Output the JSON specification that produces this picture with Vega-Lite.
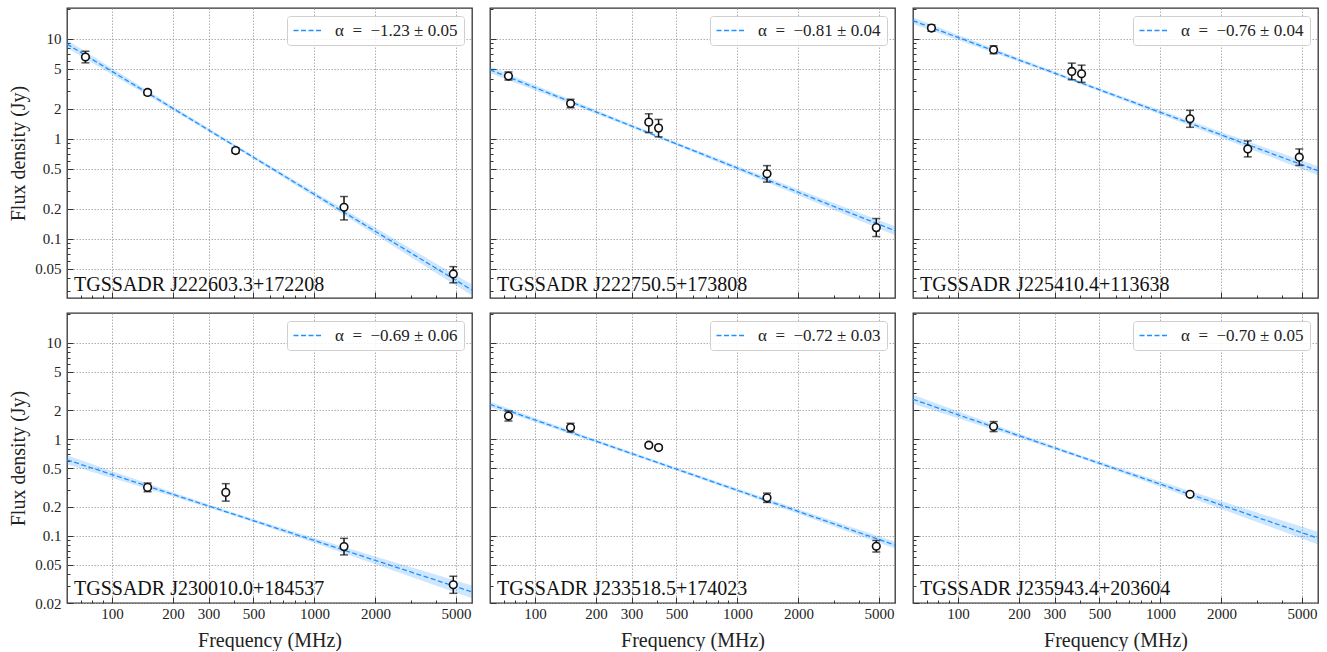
{
  "$schema": "https://vega.github.io/schema/vega-lite/v6.json",
  "padding": {"left": 8, "top": 0, "right": 0, "bottom": 0},
  "columns": 3,
  "spacing": {"row": 6, "column": 15},
  "resolve": {"scale": {"color": "independent"}, "legend": {"color": "independent"}},
  "datasets": {
    "pts1": [{"freq":74,"flux":6.56,"lo":5.74,"hi":7.5},{"freq":150,"flux":2.9,"lo":2.73,"hi":3.09},{"freq":408,"flux":0.761,"lo":0.715,"hi":0.81},{"freq":1400,"flux":0.206,"lo":0.154,"hi":0.264},{"freq":4850,"flux":0.0444,"lo":0.0362,"hi":0.0525}],
    "pts2": [{"freq":74,"flux":4.23,"lo":3.86,"hi":4.64},{"freq":150,"flux":2.25,"lo":2.04,"hi":2.48},{"freq":365,"flux":1.465,"lo":1.152,"hi":1.775},{"freq":408,"flux":1.276,"lo":1.044,"hi":1.559},{"freq":1400,"flux":0.445,"lo":0.368,"hi":0.538},{"freq":4850,"flux":0.129,"lo":0.105,"hi":0.159}],
    "pts3": [{"freq":74,"flux":12.8,"lo":11.86,"hi":13.81},{"freq":150,"flux":7.76,"lo":7.08,"hi":8.5},{"freq":365,"flux":4.71,"lo":3.89,"hi":5.7},{"freq":408,"flux":4.46,"lo":3.66,"hi":5.44},{"freq":1400,"flux":1.58,"lo":1.3,"hi":1.92},{"freq":2700,"flux":0.791,"lo":0.658,"hi":0.951},{"freq":4850,"flux":0.653,"lo":0.54,"hi":0.79}],
    "pts4": [{"freq":150,"flux":0.3166,"lo":0.2855,"hi":0.351},{"freq":365,"flux":0.281,"lo":0.228,"hi":0.346},{"freq":1400,"flux":0.0769,"lo":0.0631,"hi":0.0937},{"freq":4850,"flux":0.0309,"lo":0.0252,"hi":0.0379}],
    "pts5": [{"freq":74,"flux":1.742,"lo":1.546,"hi":1.963},{"freq":150,"flux":1.32,"lo":1.19,"hi":1.464},{"freq":365,"flux":0.867,"lo":0.829,"hi":0.908},{"freq":408,"flux":0.82,"lo":0.783,"hi":0.859},{"freq":1400,"flux":0.247,"lo":0.221,"hi":0.276},{"freq":4850,"flux":0.0776,"lo":0.0676,"hi":0.0891}],
    "pts6": [{"freq":150,"flux":1.353,"lo":1.2,"hi":1.525},{"freq":1400,"flux":0.268,"lo":0.256,"hi":0.281}],
    "fit1": [{"freq":60,"flux":8.85,"label":"α \u00a0= \u00a0−1.23 ± 0.05"},{"freq":6000,"flux":0.0306,"label":"α \u00a0= \u00a0−1.23 ± 0.05"}],
    "fit2": [{"freq":60,"flux":4.892,"label":"α \u00a0= \u00a0−0.81 ± 0.04"},{"freq":6000,"flux":0.1201,"label":"α \u00a0= \u00a0−0.81 ± 0.04"}],
    "fit3": [{"freq":60,"flux":15.14,"label":"α \u00a0= \u00a0−0.76 ± 0.04"},{"freq":6000,"flux":0.4786,"label":"α \u00a0= \u00a0−0.76 ± 0.04"}],
    "fit4": [{"freq":60,"flux":0.611,"label":"α \u00a0= \u00a0−0.69 ± 0.06"},{"freq":6000,"flux":0.02606,"label":"α \u00a0= \u00a0−0.69 ± 0.06"}],
    "fit5": [{"freq":60,"flux":2.301,"label":"α \u00a0= \u00a0−0.72 ± 0.03"},{"freq":6000,"flux":0.0798,"label":"α \u00a0= \u00a0−0.72 ± 0.03"}],
    "fit6": [{"freq":60,"flux":2.593,"label":"α \u00a0= \u00a0−0.70 ± 0.05"},{"freq":6000,"flux":0.0941,"label":"α \u00a0= \u00a0−0.70 ± 0.05"}],
    "band1": [{"freq":60,"lo":8.07,"hi":9.7},{"freq":100,"lo":4.4,"hi":5.07},{"freq":200,"lo":1.921,"hi":2.108},{"freq":400,"lo":0.829,"hi":0.888},{"freq":1000,"lo":0.2632,"hi":0.2932},{"freq":2000,"lo":0.1093,"hi":0.1283},{"freq":4000,"lo":0.04521,"hi":0.05627},{"freq":6000,"lo":0.02697,"hi":0.03476}],
    "band2": [{"freq":60,"lo":4.533,"hi":5.28},{"freq":100,"lo":3.053,"hi":3.445},{"freq":200,"lo":1.779,"hi":1.937},{"freq":400,"lo":1.0264,"hi":1.0997},{"freq":1000,"lo":0.4844,"hi":0.5331},{"freq":2000,"lo":0.2718,"hi":0.3112},{"freq":4000,"lo":0.1522,"hi":0.1822},{"freq":6000,"lo":0.1083,"hi":0.1332}],
    "band3": [{"freq":60,"lo":14.03,"hi":16.34},{"freq":100,"lo":9.714,"hi":10.96},{"freq":200,"lo":5.882,"hi":6.403},{"freq":400,"lo":3.525,"hi":3.777},{"freq":1000,"lo":1.749,"hi":1.925},{"freq":2000,"lo":1.02,"hi":1.167},{"freq":4000,"lo":0.5929,"hi":0.7098},{"freq":6000,"lo":0.4315,"hi":0.5309}],
    "band4": [{"freq":60,"lo":0.5486,"hi":0.6805},{"freq":100,"lo":0.3965,"hi":0.4674},{"freq":200,"lo":0.2545,"hi":0.2818},{"freq":400,"lo":0.161,"hi":0.1724},{"freq":1000,"lo":0.08368,"hi":0.09445},{"freq":2000,"lo":0.05038,"hi":0.06076},{"freq":4000,"lo":0.03024,"hi":0.03916},{"freq":6000,"lo":0.02242,"hi":0.03029}],
    "band5": [{"freq":60,"lo":2.163,"hi":2.447},{"freq":100,"lo":1.507,"hi":1.669},{"freq":200,"lo":0.9191,"hi":0.9941},{"freq":400,"lo":0.5567,"hi":0.5964},{"freq":1000,"lo":0.283,"hi":0.3081},{"freq":2000,"lo":0.1684,"hi":0.1882},{"freq":4000,"lo":0.09992,"hi":0.1152},{"freq":6000,"lo":0.0736,"hi":0.08653}],
    "band6": [{"freq":60,"lo":2.328,"hi":2.888},{"freq":100,"lo":1.653,"hi":1.949},{"freq":200,"lo":1.036,"hi":1.147},{"freq":400,"lo":0.6391,"hi":0.6847},{"freq":1000,"lo":0.3219,"hi":0.3633},{"freq":2000,"lo":0.1891,"hi":0.2281},{"freq":4000,"lo":0.1107,"hi":0.1434},{"freq":6000,"lo":0.08095,"hi":0.1094}]
  },
  "concat": [
    {
      "width": 405, "height": 290,
      "title": {"text": "TGSSADR J222603.3+172208", "orient": "bottom", "anchor": "start", "frame": "group", "offset": -8, "dx": 7, "baseline": "alphabetic"},
      "encoding": {"x": {"field": "freq", "type": "quantitative", "scale": {"type": "log", "domain": [60, 6000], "nice": false},
        "axis": {"values": [70,80,90,100,200,300,400,500,600,700,800,900,1000,2000,3000,4000,5000], "labels": false, "title": null,
          "tickSize": {"condition": {"test": "indexof([100,200,300,500,1000,2000,5000], datum.value) >= 0", "value": -6}, "value": -3},
          "gridOpacity": {"condition": {"test": "indexof([100,200,300,500,1000,2000,5000], datum.value) >= 0", "value": 1}, "value": 0}}}},
      "layer": [
        {"data": {"name": "band1"}, "mark": {"type": "area", "clip": true, "color": "#1E90FF", "opacity": 0.22},
          "encoding": {"y": {"field": "lo", "type": "quantitative", "scale": {"type": "log", "domain": [0.0255, 20.3], "nice": false},
            "axis": {"values": [0.03,0.04,0.05,0.06,0.07,0.08,0.09,0.1,0.2,0.3,0.4,0.5,0.6,0.7,0.8,0.9,1,2,3,4,5,6,7,8,9,10,20], "title": "Flux density (Jy)",
              "labelExpr": "indexof([0.02,0.05,0.1,0.2,0.5,1,2,5,10], datum.value) >= 0 ? format(datum.value, '~g') : ''", "labelPadding": 12, "labelFlush": false, "labelOverlap": false, "titlePadding": 6,
              "tickSize": {"condition": {"test": "indexof([0.02,0.05,0.1,0.2,0.5,1,2,5,10], datum.value) >= 0", "value": -6}, "value": -3},
              "gridOpacity": {"condition": {"test": "indexof([0.02,0.05,0.1,0.2,0.5,1,2,5,10], datum.value) >= 0", "value": 1}, "value": 0}}},
            "y2": {"field": "hi"}}},
        {"data": {"name": "fit1"}, "mark": {"type": "line", "clip": true, "strokeDash": [5, 2.5], "strokeWidth": 1.3},
          "encoding": {"y": {"field": "flux", "type": "quantitative", "axis": {"title": "Flux density (Jy)"}},
            "color": {"field": "label", "type": "nominal", "scale": {"range": ["#1E90FF"]}, "legend": {"title": null, "orient": "top-right", "offset": 8}}}},
        {"data": {"name": "pts1"}, "mark": {"type": "errorbar", "ticks": true, "color": "#111111", "thickness": 1.5, "size": 8},
          "encoding": {"y": {"field": "lo", "type": "quantitative", "axis": {"title": "Flux density (Jy)"}}, "y2": {"field": "hi"}}},
        {"data": {"name": "pts1"}, "mark": {"type": "point", "filled": true, "fill": "white", "stroke": "#111111", "strokeWidth": 1.6, "size": 58, "opacity": 1},
          "encoding": {"y": {"field": "flux", "type": "quantitative", "axis": {"title": "Flux density (Jy)"}}}}
      ]
    },
    {
      "width": 405, "height": 290,
      "title": {"text": "TGSSADR J222750.5+173808", "orient": "bottom", "anchor": "start", "frame": "group", "offset": -8, "dx": 7, "baseline": "alphabetic"},
      "encoding": {"x": {"field": "freq", "type": "quantitative", "scale": {"type": "log", "domain": [60, 6000], "nice": false},
        "axis": {"values": [70,80,90,100,200,300,400,500,600,700,800,900,1000,2000,3000,4000,5000], "labels": false, "title": null,
          "tickSize": {"condition": {"test": "indexof([100,200,300,500,1000,2000,5000], datum.value) >= 0", "value": -6}, "value": -3},
          "gridOpacity": {"condition": {"test": "indexof([100,200,300,500,1000,2000,5000], datum.value) >= 0", "value": 1}, "value": 0}}}},
      "layer": [
        {"data": {"name": "band2"}, "mark": {"type": "area", "clip": true, "color": "#1E90FF", "opacity": 0.22},
          "encoding": {"y": {"field": "lo", "type": "quantitative", "scale": {"type": "log", "domain": [0.0255, 20.3], "nice": false},
            "axis": {"values": [0.03,0.04,0.05,0.06,0.07,0.08,0.09,0.1,0.2,0.3,0.4,0.5,0.6,0.7,0.8,0.9,1,2,3,4,5,6,7,8,9,10,20], "title": null, "labels": false,
              "tickSize": {"condition": {"test": "indexof([0.02,0.05,0.1,0.2,0.5,1,2,5,10], datum.value) >= 0", "value": -6}, "value": -3},
              "gridOpacity": {"condition": {"test": "indexof([0.02,0.05,0.1,0.2,0.5,1,2,5,10], datum.value) >= 0", "value": 1}, "value": 0}}},
            "y2": {"field": "hi"}}},
        {"data": {"name": "fit2"}, "mark": {"type": "line", "clip": true, "strokeDash": [5, 2.5], "strokeWidth": 1.3},
          "encoding": {"y": {"field": "flux", "type": "quantitative"},
            "color": {"field": "label", "type": "nominal", "scale": {"range": ["#1E90FF"]}, "legend": {"title": null, "orient": "top-right", "offset": 8}}}},
        {"data": {"name": "pts2"}, "mark": {"type": "errorbar", "ticks": true, "color": "#111111", "thickness": 1.5, "size": 8},
          "encoding": {"y": {"field": "lo", "type": "quantitative"}, "y2": {"field": "hi"}}},
        {"data": {"name": "pts2"}, "mark": {"type": "point", "filled": true, "fill": "white", "stroke": "#111111", "strokeWidth": 1.6, "size": 58, "opacity": 1},
          "encoding": {"y": {"field": "flux", "type": "quantitative"}}}
      ]
    },
    {
      "width": 405, "height": 290,
      "title": {"text": "TGSSADR J225410.4+113638", "orient": "bottom", "anchor": "start", "frame": "group", "offset": -8, "dx": 7, "baseline": "alphabetic"},
      "encoding": {"x": {"field": "freq", "type": "quantitative", "scale": {"type": "log", "domain": [60, 6000], "nice": false},
        "axis": {"values": [70,80,90,100,200,300,400,500,600,700,800,900,1000,2000,3000,4000,5000], "labels": false, "title": null,
          "tickSize": {"condition": {"test": "indexof([100,200,300,500,1000,2000,5000], datum.value) >= 0", "value": -6}, "value": -3},
          "gridOpacity": {"condition": {"test": "indexof([100,200,300,500,1000,2000,5000], datum.value) >= 0", "value": 1}, "value": 0}}}},
      "layer": [
        {"data": {"name": "band3"}, "mark": {"type": "area", "clip": true, "color": "#1E90FF", "opacity": 0.22},
          "encoding": {"y": {"field": "lo", "type": "quantitative", "scale": {"type": "log", "domain": [0.0255, 20.3], "nice": false},
            "axis": {"values": [0.03,0.04,0.05,0.06,0.07,0.08,0.09,0.1,0.2,0.3,0.4,0.5,0.6,0.7,0.8,0.9,1,2,3,4,5,6,7,8,9,10,20], "title": null, "labels": false,
              "tickSize": {"condition": {"test": "indexof([0.02,0.05,0.1,0.2,0.5,1,2,5,10], datum.value) >= 0", "value": -6}, "value": -3},
              "gridOpacity": {"condition": {"test": "indexof([0.02,0.05,0.1,0.2,0.5,1,2,5,10], datum.value) >= 0", "value": 1}, "value": 0}}},
            "y2": {"field": "hi"}}},
        {"data": {"name": "fit3"}, "mark": {"type": "line", "clip": true, "strokeDash": [5, 2.5], "strokeWidth": 1.3},
          "encoding": {"y": {"field": "flux", "type": "quantitative"},
            "color": {"field": "label", "type": "nominal", "scale": {"range": ["#1E90FF"]}, "legend": {"title": null, "orient": "top-right", "offset": 8}}}},
        {"data": {"name": "pts3"}, "mark": {"type": "errorbar", "ticks": true, "color": "#111111", "thickness": 1.5, "size": 8},
          "encoding": {"y": {"field": "lo", "type": "quantitative"}, "y2": {"field": "hi"}}},
        {"data": {"name": "pts3"}, "mark": {"type": "point", "filled": true, "fill": "white", "stroke": "#111111", "strokeWidth": 1.6, "size": 58, "opacity": 1},
          "encoding": {"y": {"field": "flux", "type": "quantitative"}}}
      ]
    },
    {
      "width": 405, "height": 290,
      "title": {"text": "TGSSADR J230010.0+184537", "orient": "bottom", "anchor": "start", "frame": "group", "offset": -55, "dx": 7, "baseline": "alphabetic"},
      "encoding": {"x": {"field": "freq", "type": "quantitative", "scale": {"type": "log", "domain": [60, 6000], "nice": false},
        "axis": {"values": [70,80,90,100,200,300,400,500,600,700,800,900,1000,2000,3000,4000,5000], "title": "Frequency (MHz)",
          "labelExpr": "indexof([100,200,300,500,1000,2000,5000], datum.value) >= 0 ? format(datum.value, '~g') : ''", "labelPadding": 9, "labelFlush": false, "labelOverlap": false, "titlePadding": 6,
          "tickSize": {"condition": {"test": "indexof([100,200,300,500,1000,2000,5000], datum.value) >= 0", "value": -6}, "value": -3},
          "gridOpacity": {"condition": {"test": "indexof([100,200,300,500,1000,2000,5000], datum.value) >= 0", "value": 1}, "value": 0}}}},
      "layer": [
        {"data": {"name": "band4"}, "mark": {"type": "area", "clip": true, "color": "#1E90FF", "opacity": 0.22},
          "encoding": {"y": {"field": "lo", "type": "quantitative", "scale": {"type": "log", "domain": [0.02, 20.4], "nice": false},
            "axis": {"values": [0.02,0.03,0.04,0.05,0.06,0.07,0.08,0.09,0.1,0.2,0.3,0.4,0.5,0.6,0.7,0.8,0.9,1,2,3,4,5,6,7,8,9,10,20], "title": "Flux density (Jy)",
              "labelExpr": "indexof([0.02,0.05,0.1,0.2,0.5,1,2,5,10], datum.value) >= 0 ? format(datum.value, '~g') : ''", "labelPadding": 12, "labelFlush": false, "labelOverlap": false, "titlePadding": 6,
              "tickSize": {"condition": {"test": "indexof([0.02,0.05,0.1,0.2,0.5,1,2,5,10], datum.value) >= 0", "value": -6}, "value": -3},
              "gridOpacity": {"condition": {"test": "indexof([0.02,0.05,0.1,0.2,0.5,1,2,5,10], datum.value) >= 0", "value": 1}, "value": 0}}},
            "y2": {"field": "hi"}}},
        {"data": {"name": "fit4"}, "mark": {"type": "line", "clip": true, "strokeDash": [5, 2.5], "strokeWidth": 1.3},
          "encoding": {"y": {"field": "flux", "type": "quantitative", "axis": {"title": "Flux density (Jy)"}},
            "color": {"field": "label", "type": "nominal", "scale": {"range": ["#1E90FF"]}, "legend": {"title": null, "orient": "top-right", "offset": 8}}}},
        {"data": {"name": "pts4"}, "mark": {"type": "errorbar", "ticks": true, "color": "#111111", "thickness": 1.5, "size": 8},
          "encoding": {"y": {"field": "lo", "type": "quantitative", "axis": {"title": "Flux density (Jy)"}}, "y2": {"field": "hi"}}},
        {"data": {"name": "pts4"}, "mark": {"type": "point", "filled": true, "fill": "white", "stroke": "#111111", "strokeWidth": 1.6, "size": 58, "opacity": 1},
          "encoding": {"y": {"field": "flux", "type": "quantitative", "axis": {"title": "Flux density (Jy)"}}}}
      ]
    },
    {
      "width": 405, "height": 290,
      "title": {"text": "TGSSADR J233518.5+174023", "orient": "bottom", "anchor": "start", "frame": "group", "offset": -55, "dx": 7, "baseline": "alphabetic"},
      "encoding": {"x": {"field": "freq", "type": "quantitative", "scale": {"type": "log", "domain": [60, 6000], "nice": false},
        "axis": {"values": [70,80,90,100,200,300,400,500,600,700,800,900,1000,2000,3000,4000,5000], "title": "Frequency (MHz)",
          "labelExpr": "indexof([100,200,300,500,1000,2000,5000], datum.value) >= 0 ? format(datum.value, '~g') : ''", "labelPadding": 9, "labelFlush": false, "labelOverlap": false, "titlePadding": 6,
          "tickSize": {"condition": {"test": "indexof([100,200,300,500,1000,2000,5000], datum.value) >= 0", "value": -6}, "value": -3},
          "gridOpacity": {"condition": {"test": "indexof([100,200,300,500,1000,2000,5000], datum.value) >= 0", "value": 1}, "value": 0}}}},
      "layer": [
        {"data": {"name": "band5"}, "mark": {"type": "area", "clip": true, "color": "#1E90FF", "opacity": 0.22},
          "encoding": {"y": {"field": "lo", "type": "quantitative", "scale": {"type": "log", "domain": [0.02, 20.4], "nice": false},
            "axis": {"values": [0.02,0.03,0.04,0.05,0.06,0.07,0.08,0.09,0.1,0.2,0.3,0.4,0.5,0.6,0.7,0.8,0.9,1,2,3,4,5,6,7,8,9,10,20], "title": null, "labels": false,
              "tickSize": {"condition": {"test": "indexof([0.02,0.05,0.1,0.2,0.5,1,2,5,10], datum.value) >= 0", "value": -6}, "value": -3},
              "gridOpacity": {"condition": {"test": "indexof([0.02,0.05,0.1,0.2,0.5,1,2,5,10], datum.value) >= 0", "value": 1}, "value": 0}}},
            "y2": {"field": "hi"}}},
        {"data": {"name": "fit5"}, "mark": {"type": "line", "clip": true, "strokeDash": [5, 2.5], "strokeWidth": 1.3},
          "encoding": {"y": {"field": "flux", "type": "quantitative"},
            "color": {"field": "label", "type": "nominal", "scale": {"range": ["#1E90FF"]}, "legend": {"title": null, "orient": "top-right", "offset": 8}}}},
        {"data": {"name": "pts5"}, "mark": {"type": "errorbar", "ticks": true, "color": "#111111", "thickness": 1.5, "size": 8},
          "encoding": {"y": {"field": "lo", "type": "quantitative"}, "y2": {"field": "hi"}}},
        {"data": {"name": "pts5"}, "mark": {"type": "point", "filled": true, "fill": "white", "stroke": "#111111", "strokeWidth": 1.6, "size": 58, "opacity": 1},
          "encoding": {"y": {"field": "flux", "type": "quantitative"}}}
      ]
    },
    {
      "width": 405, "height": 290,
      "title": {"text": "TGSSADR J235943.4+203604", "orient": "bottom", "anchor": "start", "frame": "group", "offset": -55, "dx": 7, "baseline": "alphabetic"},
      "encoding": {"x": {"field": "freq", "type": "quantitative", "scale": {"type": "log", "domain": [60, 6000], "nice": false},
        "axis": {"values": [70,80,90,100,200,300,400,500,600,700,800,900,1000,2000,3000,4000,5000], "title": "Frequency (MHz)",
          "labelExpr": "indexof([100,200,300,500,1000,2000,5000], datum.value) >= 0 ? format(datum.value, '~g') : ''", "labelPadding": 9, "labelFlush": false, "labelOverlap": false, "titlePadding": 6,
          "tickSize": {"condition": {"test": "indexof([100,200,300,500,1000,2000,5000], datum.value) >= 0", "value": -6}, "value": -3},
          "gridOpacity": {"condition": {"test": "indexof([100,200,300,500,1000,2000,5000], datum.value) >= 0", "value": 1}, "value": 0}}}},
      "layer": [
        {"data": {"name": "band6"}, "mark": {"type": "area", "clip": true, "color": "#1E90FF", "opacity": 0.22},
          "encoding": {"y": {"field": "lo", "type": "quantitative", "scale": {"type": "log", "domain": [0.02, 20.4], "nice": false},
            "axis": {"values": [0.02,0.03,0.04,0.05,0.06,0.07,0.08,0.09,0.1,0.2,0.3,0.4,0.5,0.6,0.7,0.8,0.9,1,2,3,4,5,6,7,8,9,10,20], "title": null, "labels": false,
              "tickSize": {"condition": {"test": "indexof([0.02,0.05,0.1,0.2,0.5,1,2,5,10], datum.value) >= 0", "value": -6}, "value": -3},
              "gridOpacity": {"condition": {"test": "indexof([0.02,0.05,0.1,0.2,0.5,1,2,5,10], datum.value) >= 0", "value": 1}, "value": 0}}},
            "y2": {"field": "hi"}}},
        {"data": {"name": "fit6"}, "mark": {"type": "line", "clip": true, "strokeDash": [5, 2.5], "strokeWidth": 1.3},
          "encoding": {"y": {"field": "flux", "type": "quantitative"},
            "color": {"field": "label", "type": "nominal", "scale": {"range": ["#1E90FF"]}, "legend": {"title": null, "orient": "top-right", "offset": 8}}}},
        {"data": {"name": "pts6"}, "mark": {"type": "errorbar", "ticks": true, "color": "#111111", "thickness": 1.5, "size": 8},
          "encoding": {"y": {"field": "lo", "type": "quantitative"}, "y2": {"field": "hi"}}},
        {"data": {"name": "pts6"}, "mark": {"type": "point", "filled": true, "fill": "white", "stroke": "#111111", "strokeWidth": 1.6, "size": 58, "opacity": 1},
          "encoding": {"y": {"field": "flux", "type": "quantitative"}}}
      ]
    }
  ],
  "config": {
    "font": "Liberation Serif",
    "view": {"stroke": "#333333", "strokeWidth": 1.3},
    "axis": {"domain": false, "grid": true, "gridColor": "#9a9a9a", "gridDash": [1.5, 1.5], "gridWidth": 0.8, "tickColor": "#333333", "tickWidth": 1,
      "labelFont": "Liberation Serif", "labelFontSize": 15, "labelColor": "#222222",
      "titleFont": "Liberation Serif", "titleFontSize": 20, "titleFontWeight": "normal", "titleColor": "#222222"},
    "title": {"font": "Liberation Serif", "fontSize": 20, "fontWeight": "normal", "color": "#111111"},
    "legend": {"padding": 6, "fillColor": "rgba(255,255,255,0.85)", "strokeColor": "#cfcfcf", "cornerRadius": 3,
      "symbolType": "M-3,0L3,0", "symbolSize": 100, "symbolOffset": 7, "labelOffset": 18, "symbolDash": [5, 2.5], "symbolStrokeWidth": 1.3,
      "labelFont": "Liberation Serif", "labelFontSize": 17, "labelColor": "#222222"}
  }
}
